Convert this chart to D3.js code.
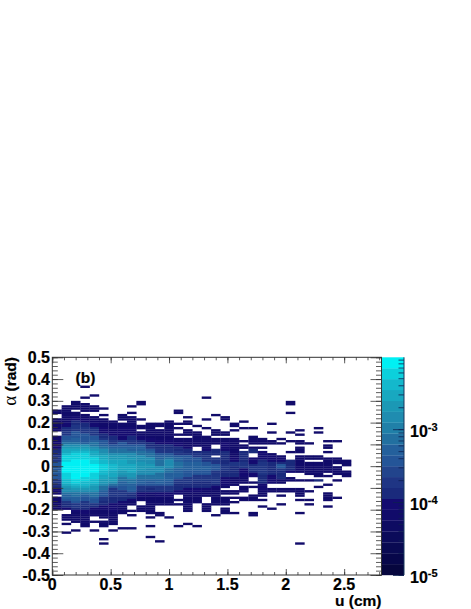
<!DOCTYPE html>
<html>
<head>
<meta charset="utf-8">
<script src="https://cdnjs.cloudflare.com/ajax/libs/d3/7.8.5/d3.min.js"></script>
<style>
    html, body { margin: 0; padding: 0; background: #fff; }
    svg { display: block; }
    text { font-family: "Liberation Sans", Arial, sans-serif; font-weight: bold; fill: #000; stroke: #000; stroke-width: 0.2; }
</style>
</head>
<body>
<div id="chart"></div>
<script>
(function () {
    'use strict';

    // tick labels
    var uTicks = [0, 0.5, 1, 1.5, 2, 2.5];
    var alphaTicks = [0.5, 0.4, 0.3, 0.2, 0.1, 0, -0.1, -0.2, -0.3, -0.4, -0.5];
    var colorTicks = [1e-3, 1e-4, 1e-5];

    // colour bar bands, bottom to top
    var palette = ["#06063e", "#07074a", "#090a52", "#0b0b5a", "#0e0b62", "#110b6a", "#140b70",
        "#1a2a7c", "#1f3584", "#22448c", "#245598", "#24609c", "#2270a0", "#2080a8",
        "#1f8cb0", "#1b98b5", "#18a8c0", "#14b8cc", "#0cd0dc", "#00f0f4"];

    // histogram, one list per u bin.
    // each segment is [first alpha row, band per row], band is a base 20 digit
    var column00 = [[24, "55"], [28, "5555"], [32, "55"], [36, "555666777888aaaabaaa8877666"], [64, "555555"]];
    var column01 = [[22, "55555555"], [30, "667788aabcefgghiiijjjjjiiihhgfeecbba8776"], [72, "555"], [76, "5"], [80, "5"]];
    var column02 = [[20, "5555"], [25, "556677888aaabbcefghiiijjjjjjjjjiihgfeccbba887655555"], [79, "5"]];
    var column03 = [[13, "5"], [18, "5"], [21, "5555"], [26, "556677888aaaabefghiiijjjjjjjjiihhgfecbaa887766555555"]];
    var column04 = [[17, "5"], [22, "555"], [27, "555667888aabccefgghiiijjjjiiihhgffeccbaa8765"], [71, "55"], [75, "5"], [79, "5"]];
    var column05 = [[23, "5"], [26, "5"], [28, "5555"], [32, "666778aabceefgghhiiihhggffeccbaa8877665555"], [75, "555"], [83, "5"], [85, "5"]];
    var column06 = [[29, "55555667788abcceffgghhhgggffeca88887776666555555"], [79, "5"]];
    var column07 = [[26, "555"], [30, "556666668aabcceffgggggffeccbbaa88877665555"], [78, "5"]];
    var column08 = [[22, "5"], [25, "5"], [27, "5555566667788abbceefffggggffeccbbba877655"], [70, "5"], [72, "5"], [78, "5"]];
    var column09 = [[20, "55"], [28, "5"], [31, "55"], [34, "556678abbcceeeffffeeccbba8876655"], [68, "555"]];
    var column10 = [[30, "555555566778abcceeeffeeeccbaa8776555555555"], [73, "5"], [77, "5"], [82, "5"]];
    var column11 = [[30, "55"], [33, "55555667788abbccceeecccbba8876655 55".replace(" ", "")], [71, "55"], [84, "5"]];
    var column12 = [[29, "555555555667788abceeeeccbbbbaa887665555"], [73, "5"]];
    var column13 = [[24, "55"], [30, "5"], [32, "5"], [35, "5"], [37, "55667788abbcccbbbba8877766"], [65, "5"], [67, "5"], [77, "5"]];
    var column14 = [[27, "5"], [29, "55"], [33, "555"], [37, "55556778aaabbbbaaa8887766555555555"], [76, "5"]];
    var column15 = [[31, "5"], [34, "5555555"], [43, "788aabbbbaa8887776655555"], [77, "5"]];
    var column16 = [[18, "5"], [28, "5"], [32, "5"], [36, "55555667788 8aabbaa888777 6555".replace(/ /g, "")], [67, "5555"]];
    var column17 = [[26, "5"], [33, "555"], [37, "555"], [42, "777"], [46, "888aaa888888765555555 5".replace(" ", "")], [72, "5"]];
    var column18 = [[27, "55"], [34, "55"], [37, "55666677777788877766665"], [61, "55"], [64, "5555"], [69, "555"]];
    var column19 = [[30, "55"], [33, "5"], [37, "5555555556688777775555"], [61, "55"], [64, "5"], [66, "5"], [71, "5"]];
    var column20 = [[29, "5"], [32, "5"], [38, "5"], [40, "55"], [43, "777778886666555"], [59, "555"], [64, "55"]];
    var column21 = [[32, "5"], [36, "5555"], [41, "577"], [46, "666788766"], [57, "5"], [59, "5"], [63, "555"], [71, "55"]];
    var column22 = [[37, "555"], [41, "5"], [43, "666678888887777666555"], [65, "5"], [68, "5"]];
    var column23 = [[30, "5"], [34, "5"], [38, "55"], [44, "56667777776666"], [60, "55"], [69, "5"]];
    var column24 = [[37, "5"], [39, "5"], [45, "5667aa87777"], [56, "55"], [60, "55"], [63, "5"], [67, "5"]];
    var column25 = [[20, "55"], [25, "5"], [34, "5"], [38, "5"], [43, "5"], [47, "777776"], [55, "55"], [60, "55"]];
    var column26 = [[33, "5"], [35, "5"], [38, "55"], [41, "555"], [45, "55555555"], [56, "5"], [60, "5555"], [65, "5"], [71, "5"], [85, "5"]];
    var column27 = [[39, "5"], [45, "55"], [48, "555555"], [56, "5"], [61, "5"], [65, "5"], [67, "5"]];
    var column28 = [[32, "5"], [34, "5"], [45, "55"], [48, "5555555"], [56, "7"], [59, "5"]];
    var column29 = [[38, "5"], [40, "55"], [43, "5"], [46, "5555555"], [54, "5"], [58, "5"], [62, "5555"], [68, "5"]];
    var column30 = [[38, "5"], [46, "555"], [50, "5555"], [56, "5"], [64, "5"]];
    var column31 = [[47, "555"], [52, "555"]];

    var columns = [column00, column01, column02, column03, column04, column05, column06, column07,
        column08, column09, column10, column11, column12, column13, column14, column15,
        column16, column17, column18, column19, column20, column21, column22, column23,
        column24, column25, column26, column27, column28, column29, column30, column31];

    // Width and height of SVG element
    var width = 471;
    var height = 609;
    var uBin = 0.08;
    var alphaBin = 0.01;
    var logMin = -5;
    var logMax = -2.014;

    var svg = d3.select("#chart")
        .append("svg")
        .attr("width", width)
        .attr("height", height);

    var x = d3.scaleLinear().domain([0, 2.82]).range([52.3, 381.5]);
    var y = d3.scaleLinear().domain([-0.5, 0.5]).range([575, 357.3]);
    var z = d3.scaleLog().domain([Math.pow(10, logMin), Math.pow(10, logMax)]).range([575, 357.3]);
    var color = d3.scaleQuantize().domain([logMin, logMax]).range(palette);

    // flatten the segments into cells
    var cells = [];
    columns.forEach(function (column, i) {
        column.forEach(function (segment) {
            segment[1].split("").forEach(function (ch, k) {
                var band = parseInt(ch, 20);
                cells.push({
                    u: i * uBin,
                    alpha: 0.5 - (segment[0] + k) * alphaBin,
                    logValue: logMin + (band + 0.5) * (logMax - logMin) / palette.length
                });
            });
        });
    });

    // small overlap so the seams between cells stay faint
    svg.append("g").selectAll("rect")
        .data(cells)
        .enter()
        .append("rect")
        .attr("x", function (d) { return x(d.u); })
        .attr("y", function (d) { return y(d.alpha); })
        .attr("width", function (d) { return x(d.u + uBin) - x(d.u) + 0.2; })
        .attr("height", function (d) { return y(d.alpha - alphaBin) - y(d.alpha) + 0.2; })
        .attr("fill", function (d) { return color(d.logValue); });

    // colour bar
    svg.append("g").selectAll("rect")
        .data(palette)
        .enter()
        .append("rect")
        .attr("x", x(2.82))
        .attr("width", 22.5)
        .attr("y", function (d, i) { return z(Math.pow(10, logMin + (i + 1) * (logMax - logMin) / palette.length)); })
        .attr("height", (575 - 357.3) / palette.length + 0.2)
        .attr("fill", function (d) { return d; });

    // draw one tick set, no labels
    function ticks(axis, translate, values, size, stroke) {
        var g = svg.append("g")
            .attr("transform", translate)
            .call(axis.tickValues(values).tickSize(size).tickSizeOuter(0).tickFormat(""));
        g.select(".domain").remove();
        g.selectAll("line").attr("stroke", stroke || "#333").attr("stroke-width", 0.8);
        g.selectAll("text").remove();
    }

    var uMinor = d3.range(0, 2.81, 0.1);
    var alphaMinor = d3.range(-25, 26).map(function (d) { return d * 0.02; });
    var x0 = x(0), x1 = x(2.82), y0 = y(-0.5), y1 = y(0.5);

    ticks(d3.axisTop(x), "translate(0," + y0 + ")", uMinor, 3);
    ticks(d3.axisTop(x), "translate(0," + y0 + ")", uTicks, 6);
    ticks(d3.axisBottom(x), "translate(0," + y1 + ")", uMinor, 3);
    ticks(d3.axisBottom(x), "translate(0," + y1 + ")", uTicks, 6);
    ticks(d3.axisRight(y), "translate(" + x0 + ",0)", alphaMinor, 5.5);
    ticks(d3.axisRight(y), "translate(" + x0 + ",0)", alphaTicks, 11);
    ticks(d3.axisLeft(y), "translate(" + x1 + ",0)", alphaMinor, 5.5);
    ticks(d3.axisLeft(y), "translate(" + x1 + ",0)", alphaTicks, 11);

    // colour bar ticks
    var zMinor = z.ticks().filter(function (d) { return d < Math.pow(10, logMax); });
    ticks(d3.axisLeft(z), "translate(" + (x1 + 22.5) + ",0)", zMinor, 5.5, "#0c1f50");
    ticks(d3.axisLeft(z), "translate(" + (x1 + 22.5) + ",0)", colorTicks, 11, "#0c1f50");

    // frame
    svg.append("rect")
        .attr("x", x0)
        .attr("y", y1)
        .attr("width", x1 - x0)
        .attr("height", y0 - y1)
        .attr("fill", "none")
        .attr("stroke", "#333")
        .attr("stroke-width", 1);
    svg.append("line")
        .attr("x1", x1 + 22.5).attr("x2", x1 + 22.5)
        .attr("y1", y1).attr("y2", y0)
        .attr("stroke", "#16365c");

    // tick labels
    svg.selectAll("text.xlabel")
        .data(uTicks)
        .enter()
        .append("text")
        .attr("class", "xlabel")
        .text(function (d) { return d; })
        .attr("text-anchor", "middle")
        .attr("x", function (d) { return x(d); })
        .attr("y", 590)
        .attr("font-size", "16px");

    svg.selectAll("text.ylabel")
        .data(alphaTicks)
        .enter()
        .append("text")
        .attr("class", "ylabel")
        .text(function (d) { return d; })
        .attr("text-anchor", "end")
        .attr("x", 50)
        .attr("y", function (d) { return y(d) + 5.5; })
        .attr("font-size", "16px");

    var colorLabels = svg.selectAll("text.zlabel")
        .data(colorTicks)
        .enter()
        .append("text")
        .attr("class", "zlabel")
        .attr("x", 410)
        .attr("y", function (d) { return z(d) + 7.5; })
        .attr("font-size", "16px");
    colorLabels.append("tspan").text("10");
    colorLabels.append("tspan")
        .text(function (d) { return Math.round(Math.log10(d)); })
        .attr("dy", -6)
        .attr("font-size", "11px");

    // titles
    svg.append("text")
        .text("u (cm)")
        .attr("text-anchor", "end")
        .attr("x", 381.5)
        .attr("y", 606)
        .attr("font-size", "15.5px");

    var yTitle = svg.append("text")
        .attr("text-anchor", "end")
        .attr("transform", "translate(15.5,357) rotate(-90)")
        .attr("font-size", "15.5px");
    yTitle.append("tspan")
        .text("α")
        .attr("font-family", "'Liberation Serif', serif")
        .attr("font-weight", "normal")
        .attr("stroke-width", 0)
        .attr("font-size", "19px");
    yTitle.append("tspan").text(" (rad)");

    svg.append("text")
        .text("(b)")
        .attr("x", 75.5)
        .attr("y", 383)
        .attr("font-size", "15.5px");
}());
</script>
</body>
</html>
